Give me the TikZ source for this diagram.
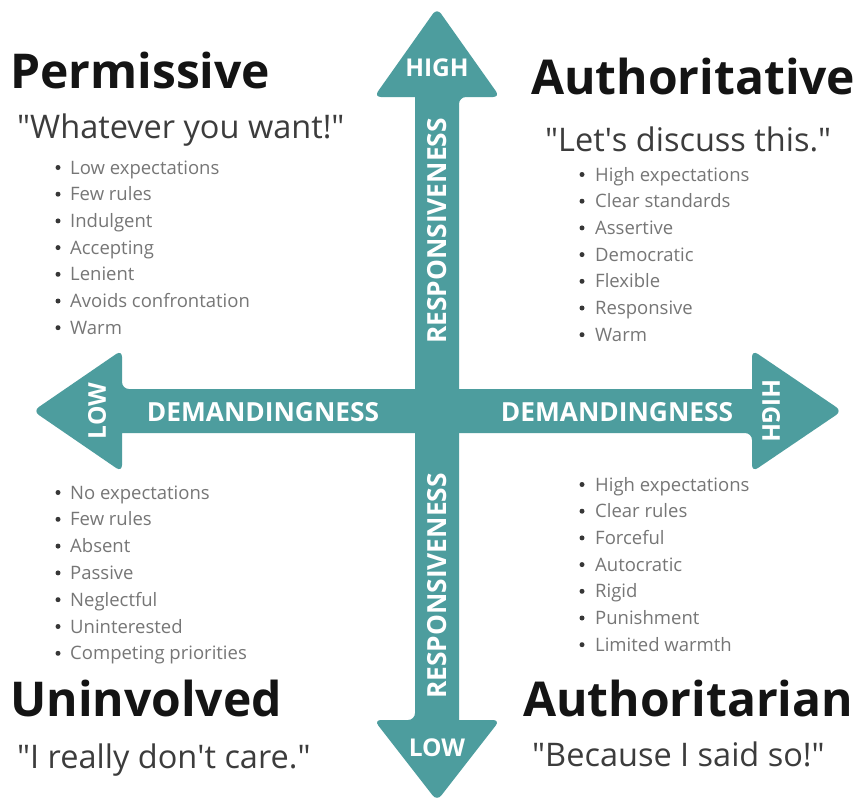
\documentclass[tikz,border=0pt]{standalone}
\usepackage{fontspec}
\setmainfont{Open Sans}
\definecolor{teal1}{RGB}{77,157,158}
\definecolor{titlec}{RGB}{20,20,20}
\definecolor{quotec}{RGB}{60,60,60}
\definecolor{itemc}{RGB}{118,118,118}
\newcommand{\dq}{\textquotedbl}
\newcommand{\sq}{\textquotesingle}
\begin{document}
\begin{tikzpicture}[x=1pt,y=-1pt,
  arrowfill/.style={fill=teal1,rounded corners=7pt},
  axislbl/.style={text=white,font=\fontsize{26.3}{26}\selectfont\bfseries,inner sep=0pt},
  endlbl/.style={text=white,font=\fontsize{24.5}{24}\selectfont\bfseries,inner sep=0pt},
  titletxt/.style={anchor=base west,inner sep=0pt,text=titlec,font=\fontsize{48}{48}\selectfont\bfseries},
  quotetxt/.style={anchor=base west,inner sep=0pt,text=quotec,font=\fontsize{32.5}{32}\selectfont},
  itemtxt/.style={anchor=base west,inner sep=0pt,text=itemc,font=\fontsize{18.5}{18}\selectfont},
  bul/.style={circle,fill=titlec!85,inner sep=0pt,minimum size=5pt}
]
\useasboundingbox (0,0) rectangle (860,803);
\fill[white] (0,0) rectangle (860,803);
% vertical arrow
\fill[arrowfill] (437,8) -- (500,97) -- (459,97)[sharp corners] -- (459,720) [rounded corners=7pt] -- (500,720) -- (437,801) -- (374,720) -- (415,720)[sharp corners] -- (415,97)[rounded corners=7pt] -- (374,97) -- cycle;
% horizontal arrow
\fill[arrowfill] (33,411) -- (122,350) -- (122,389)[sharp corners] -- (752,389)[rounded corners=7pt] -- (752,350) -- (842,411) -- (752,472) -- (752,433)[sharp corners] -- (122,433)[rounded corners=7pt] -- (122,472) -- cycle;
% arrow labels
\node[endlbl] (hiR) at (437,68) {HIGH};
\node[endlbl] (loR) at (437,748) {LOW};
\node[endlbl,rotate=90] (loD) at (97,411) {LOW};
\node[endlbl,rotate=-90] (hiD) at (771,411) {HIGH};
\node[axislbl] (dl) at (263,412) {DEMANDINGNESS};
\node[axislbl] (dr) at (617,412) {DEMANDINGNESS};
\node[axislbl,rotate=90] (rt) at (437,231) {RESPONSIVENESS};
\node[axislbl,rotate=90] (rb) at (437,586) {RESPONSIVENESS};
% Permissive
\node[titletxt] (pt) at (10,88) {Permissive};
\node[quotetxt] (pq) at (17,138) {\dq Whatever you want!\dq};
\foreach \t [count=\i from 0] in {Low expectations,Few rules,Indulgent,Accepting,Lenient,Avoids confrontation,Warm}{
  \node[bul] (pb\i) at (58,167.5+26.7*\i) {};
  \node[itemtxt] (pi\i) at (70,174+26.7*\i) {\t};
}
% Authoritative
\node[titletxt] (at) at (531,94) {Authoritative};
\node[quotetxt] (aq) at (545,151) {\dq Let\sq s discuss this.\dq};
\foreach \t [count=\i from 0] in {High expectations,Clear standards,Assertive,Democratic,Flexible,Responsive,Warm}{
  \node[bul] (ab\i) at (582,174.5+26.7*\i) {};
  \node[itemtxt] (ai\i) at (595,181+26.7*\i) {\t};
}
% Uninvolved
\node[titletxt] (ut) at (10,716) {Uninvolved};
\node[quotetxt] (uq) at (17,768) {\dq I really don\sq t care.\dq};
\foreach \t [count=\i from 0] in {No expectations,Few rules,Absent,Passive,Neglectful,Uninterested,Competing priorities}{
  \node[bul] (ub\i) at (58,492.5+26.8*\i) {};
  \node[itemtxt] (ui\i) at (70,499+26.8*\i) {\t};
}
% Authoritarian
\node[titletxt] (rt2) at (523,716) {Authoritarian};
\node[quotetxt] (rq) at (532,766) {\dq Because I said so!\dq};
\foreach \t [count=\i from 0] in {High expectations,Clear rules,Forceful,Autocratic,Rigid,Punishment,Limited warmth}{
  \node[bul] (rb\i) at (582,484.5+26.7*\i) {};
  \node[itemtxt] (ri\i) at (595,491+26.7*\i) {\t};
}
\end{tikzpicture}
\end{document}
